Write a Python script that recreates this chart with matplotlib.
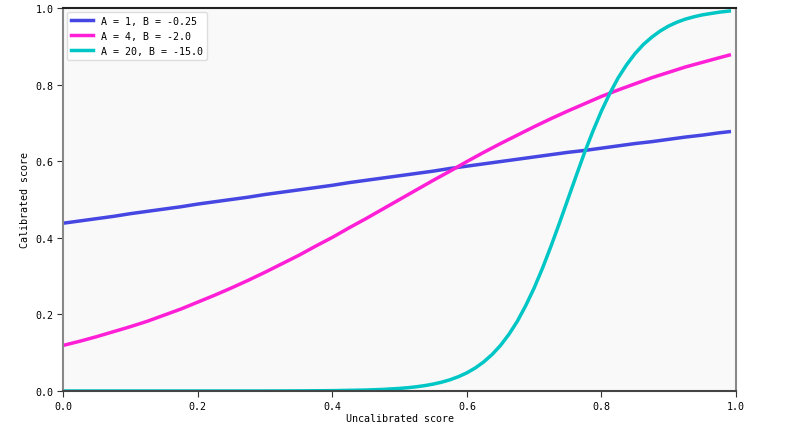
import matplotlib
matplotlib.use('Agg')
import matplotlib.pyplot as plt

# valores
x_lin = [0.0, 0.025, 0.05, 0.075, 0.1, 0.125, 0.15, 0.175, 0.2, 0.225, 0.25,
         0.275, 0.3, 0.325, 0.35, 0.375, 0.4, 0.425, 0.45, 0.475, 0.5,
         0.525, 0.55, 0.575, 0.6, 0.625, 0.65, 0.675, 0.7, 0.725, 0.75,
         0.775, 0.8, 0.825, 0.85, 0.875, 0.9, 0.925, 0.95, 0.975, 0.99]

y_a1 = [0.438, 0.444, 0.450, 0.456, 0.463, 0.469, 0.475, 0.481, 0.488, 0.494, 0.500,
        0.506, 0.513, 0.519, 0.525, 0.531, 0.537, 0.544, 0.550, 0.556, 0.562,
        0.568, 0.574, 0.581, 0.587, 0.593, 0.599, 0.605, 0.611, 0.617, 0.623,
        0.628, 0.634, 0.640, 0.646, 0.651, 0.657, 0.663, 0.668, 0.674, 0.677]

y_a4 = [0.119, 0.130, 0.142, 0.155, 0.168, 0.182, 0.198, 0.214, 0.232, 0.250, 0.269,
        0.289, 0.310, 0.332, 0.354, 0.378, 0.401, 0.426, 0.450, 0.475, 0.500,
        0.525, 0.550, 0.574, 0.599, 0.623, 0.646, 0.668, 0.690, 0.711, 0.731,
        0.750, 0.769, 0.786, 0.802, 0.818, 0.832, 0.846, 0.858, 0.870, 0.877]

x_a20 = [0.0, 0.1, 0.2, 0.3, 0.35, 0.4, 0.45, 0.475, 0.5, 0.5125, 0.525, 0.5375,
         0.55, 0.5625, 0.575, 0.5875, 0.6, 0.6125, 0.625, 0.6375, 0.65, 0.6625,
         0.675, 0.6875, 0.7, 0.7125, 0.725, 0.7375, 0.75, 0.7625, 0.775, 0.7875,
         0.8, 0.8125, 0.825, 0.8375, 0.85, 0.8625, 0.875, 0.8875, 0.9, 0.9125,
         0.925, 0.9375, 0.95, 0.975, 0.99]

y_a20 = [0.0, 0.0, 0.0, 0.0, 0.0003, 0.0009, 0.0025, 0.0041, 0.0067, 0.0086, 0.011, 0.0141,
         0.018, 0.023, 0.0293, 0.0374, 0.0474, 0.0601, 0.0759, 0.0953, 0.119, 0.148,
         0.182, 0.223, 0.269, 0.321, 0.378, 0.438, 0.500, 0.562, 0.623, 0.679,
         0.731, 0.777, 0.818, 0.852, 0.881, 0.905, 0.924, 0.940, 0.953, 0.963,
         0.971, 0.977, 0.982, 0.989, 0.992]

etiquetas = ['A = 1, B = -0.25', 'A = 4, B = -2.0', 'A = 20, B = -15.0']
colores = ['#4646e2', '#ff1fd6', '#00c6c6']

plt.rcParams['font.family'] = 'DejaVu Sans Mono'

fig = plt.figure(figsize=(8, 4.27), dpi=100)
ax = fig.add_axes([0.079, 0.082, 0.841, 0.897])
ax.set_facecolor('#f9f9f9')

ax.plot(x_lin, y_a1, color=colores[0], linewidth=2.5, label=etiquetas[0])
ax.plot(x_lin, y_a4, color=colores[1], linewidth=2.5, label=etiquetas[1])
ax.plot(x_a20, y_a20, color=colores[2], linewidth=2.5, label=etiquetas[2])

ax.set_xlim(0, 1)
ax.set_ylim(0, 1)
ax.set_xticks([0.0, 0.2, 0.4, 0.6, 0.8, 1.0])
ax.set_yticks([0.0, 0.2, 0.4, 0.6, 0.8, 1.0])
ax.tick_params(labelsize=7.2, length=4, color='#333333', pad=3)

ax.spines['left'].set_color('#888888')
ax.spines['right'].set_color('#888888')
ax.spines['top'].set_color('#222222')
ax.spines['bottom'].set_color('#444444')
for s in ax.spines.values():
    s.set_linewidth(1.5)

ax.set_xlabel('Uncalibrated score', fontsize=7.2, labelpad=2)
ax.set_ylabel('Calibrated score', fontsize=7.2, labelpad=4)
ax.legend(loc='upper left', fontsize=7.2, facecolor='white', edgecolor='#dddddd',
          framealpha=1.0, handlelength=2.2, borderaxespad=0.4)

plt.savefig('out.png', dpi=100)
